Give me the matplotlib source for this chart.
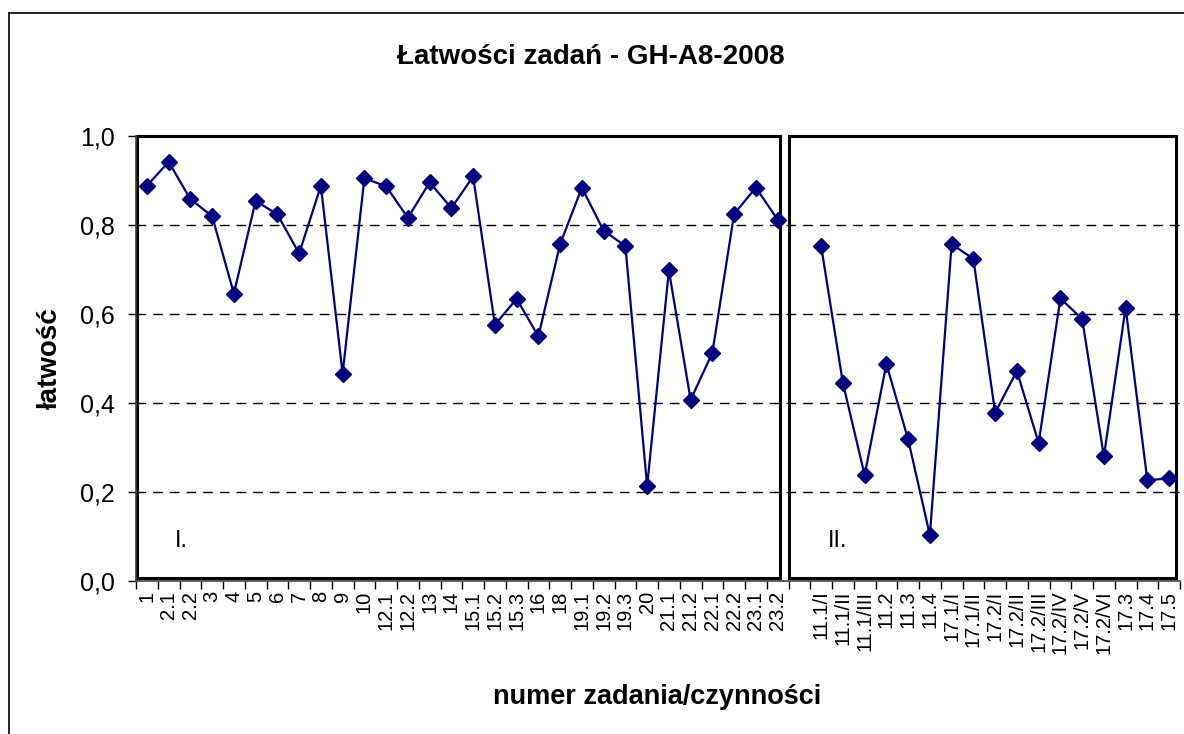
"""
Łatwości zadań - GH-A8-2008
Line chart of task easiness, two parts (I. and II.)
"""

import numpy as np
import matplotlib
matplotlib.use("Agg")
import matplotlib.pyplot as plt
from matplotlib.patches import Rectangle
from matplotlib.lines import Line2D

plt.rcParams['font.family'] = ['Liberation Sans', 'DejaVu Sans']

# part I tasks
tasks_1 = ['1', '2.1', '2.2', '3', '4', '5', '6', '7', '8', '9', '10',
           '12.1', '12.2', '13', '14', '15.1', '15.2', '15.3', '16', '18',
           '19.1', '19.2', '19.3', '20', '21.1', '21.2', '22.1', '22.2',
           '23.1', '23.2']
ease_1 = [0.888, 0.942, 0.858, 0.820, 0.646, 0.854, 0.824, 0.736, 0.888,
          0.466, 0.905, 0.887, 0.816, 0.896, 0.838, 0.909, 0.576, 0.634,
          0.550, 0.757, 0.884, 0.787, 0.753, 0.213, 0.698, 0.407, 0.513,
          0.825, 0.884, 0.812]

# part II tasks
tasks_2 = ['11.1/I', '11.1/II', '11.1/III', '11.2', '11.3', '11.4',
           '17.1/I', '17.1/II', '17.2/I', '17.2/II', '17.2/III', '17.2/IV',
           '17.2/V', '17.2/VI', '17.3', '17.4', '17.5']
ease_2 = [0.753, 0.445, 0.238, 0.488, 0.318, 0.103, 0.757, 0.724, 0.378,
          0.472, 0.310, 0.635, 0.589, 0.280, 0.614, 0.226, 0.231]

y_ticks = [0.0, 0.2, 0.4, 0.6, 0.8, 1.0]

# one empty category between the parts breaks the line
labels = tasks_1 + [''] + tasks_2
values = ease_1 + [np.nan] + ease_2
x = np.arange(len(labels))

W, H = 1184, 734
fig = plt.figure(figsize=(W / 100, H / 100), dpi=100)
ax = fig.add_axes([136 / W, 1 - 581 / H, (1180 - 136) / W, (581 - 136) / H])

# gridlines
for v in y_ticks[1:-1]:
    ax.axhline(v, color='black', lw=1, ls=(0, (7, 5)), zorder=1)

ax.plot(x, values, color='#000080', lw=1.6, marker='D', markersize=8.5,
        markerfacecolor='#000080', markeredgecolor='#000080', zorder=3)

ax.set_xlim(-0.5, len(labels) - 0.5)
ax.set_ylim(0, 1.0)

ax.set_xticks(x)
ax.set_xticklabels(labels, rotation=90, fontsize=14.5)
ax.set_xticks(np.arange(-0.5, len(labels)), minor=True)
ax.tick_params(axis='x', which='major', length=0, pad=7)
ax.tick_params(axis='x', which='minor', length=6, width=1, direction='out')

ax.set_yticks(y_ticks)
ax.set_yticklabels([f'{v:.1f}'.replace('.', ',') for v in y_ticks], fontsize=18)
ax.tick_params(axis='y', length=6, width=1, direction='out', pad=9)

for s in ['top', 'right']:
    ax.spines[s].set_visible(False)
for s in ['left', 'bottom']:
    ax.spines[s].set_color('#404040')
    ax.spines[s].set_linewidth(1.2)

# boxes around both parts
box_1 = Rectangle((-0.45, 0.006), 29.55, 0.994, fill=False, ec='black', lw=2.2,
                  zorder=2, clip_on=False)
box_2 = Rectangle((29.52, 0.006), 17.78, 0.994, fill=False, ec='black', lw=2.2,
                  zorder=2, clip_on=False)
ax.add_patch(box_1)
ax.add_patch(box_2)

ax.text(1.3, 0.09, 'I.', fontsize=17, va='center', ha='left')
ax.text(31.3, 0.09, 'II.', fontsize=17, va='center', ha='left')

fig.text(50 / W, 1 - 358 / H, 'łatwość', fontsize=20, fontweight='bold',
         rotation=90, ha='center', va='center')
fig.text(657 / W, 1 - 697 / H, 'numer zadania/czynności', fontsize=19.5,
         fontweight='bold', ha='center', va='center')
fig.text(591 / W, 1 - 57 / H, 'Łatwości zadań - GH-A8-2008', fontsize=20,
         fontweight='bold', ha='center', va='center')

# outer chart frame (left and top edges visible)
fig.add_artist(Line2D([9 / W, 9 / W], [0, 1 - 13 / H], color='black', lw=1.2))
fig.add_artist(Line2D([9 / W, 1], [1 - 13 / H, 1 - 13 / H], color='black', lw=1.2))

fig.savefig('out.png', dpi=100)
